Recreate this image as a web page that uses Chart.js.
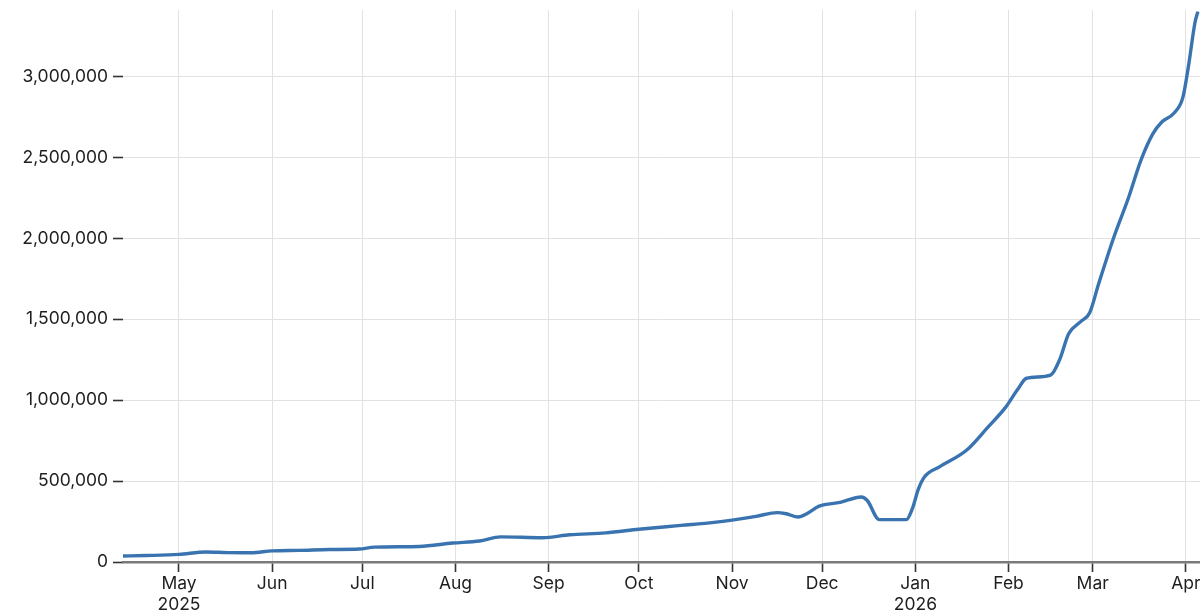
<!DOCTYPE html>
<html>
<head>
<meta charset="utf-8">
<script src="https://cdn.jsdelivr.net/npm/chart.js@4/dist/chart.umd.min.js"></script>
<style>
html,body{margin:0;padding:0;background:#fff;overflow:hidden;}
#wrap{width:1200px;height:612px;}
</style>
</head>
<body>
<div id="wrap"><canvas id="c" width="1200" height="612"></canvas></div>
<script>
// ---- data ----
const dates = [
  '2025-04-12','2025-04-20','2025-05-01','2025-05-10','2025-05-17','2025-05-25',
  '2025-06-01','2025-06-10','2025-06-20','2025-06-30','2025-07-05','2025-07-20',
  '2025-07-31','2025-08-09','2025-08-16','2025-08-30','2025-09-08','2025-09-20',
  '2025-10-01','2025-10-15','2025-10-26','2025-11-01','2025-11-09','2025-11-16',
  '2025-11-19','2025-11-23','2025-11-26','2025-11-30','2025-12-07','2025-12-14',
  '2025-12-16','2025-12-20','2025-12-29','2025-12-31','2026-01-02','2026-01-04',
  '2026-01-09','2026-01-18','2026-01-25','2026-01-31','2026-02-04','2026-02-07',
  '2026-02-15','2026-02-18','2026-02-21','2026-02-25','2026-02-28','2026-03-03',
  '2026-03-08','2026-03-13','2026-03-17','2026-03-21','2026-03-24','2026-03-28',
  '2026-03-31','2026-04-02','2026-04-04','2026-04-05'
];
const users = [
  37000, 40000, 47000, 62000, 58000, 57000,
  69000, 72000, 77000, 80000, 92000, 96000,
  117000, 130000, 155000, 150000, 168000, 180000,
  202000, 226000, 245000, 259000, 282000, 305000,
  298000, 278000, 300000, 345000, 368000, 402000,
  380000, 262000, 262000, 330000, 450000, 525000,
  588000, 690000, 830000, 955000, 1065000, 1135000,
  1155000, 1250000, 1410000, 1485000, 1540000, 1720000,
  2005000, 2255000, 2480000, 2645000, 2718000, 2772000,
  2870000, 3080000, 3330000, 3400000
];
const tickDates = ['2025-05-01','2025-06-01','2025-07-01','2025-08-01','2025-09-01','2025-10-01',
                   '2025-11-01','2025-12-01','2026-01-01','2026-02-01','2026-03-01','2026-04-01'];
const tickLabels = [['May','2025'],'Jun','Jul','Aug','Sep','Oct','Nov','Dec',['Jan','2026'],'Feb','Mar','Apr'];
const yTicks = [0, 500000, 1000000, 1500000, 2000000, 2500000, 3000000];
const yMax = 3410000;

// ---- helpers ----
const origin = Date.UTC(2025, 4, 1);
function dayOf(s){ const p = s.split('-').map(Number); return (Date.UTC(p[0], p[1]-1, p[2]) - origin) / 86400000; }
const points = dates.map((d,i)=>({x: dayOf(d), y: users[i]}));
const tickDays = tickDates.map(dayOf);
const xMin = -18.63, xMax = 339.7;

const FONT = {family: 'Inter, "Liberation Sans", sans-serif', size: 17.5};

new Chart(document.getElementById('c'), {
  type: 'line',
  data: { datasets: [{
    data: points,
    borderColor: '#3a74b0',
    borderWidth: 3.4,
    pointRadius: 0,
    fill: false,
    cubicInterpolationMode: 'monotone'
  }]},
  options: {
    responsive: false,
    animation: false,
    layout: { padding: { top: 10, right: 0, left: 0, bottom: 0 } },
    plugins: { legend: { display: false }, tooltip: { enabled: false } },
    scales: {
      x: {
        type: 'linear',
        min: xMin, max: xMax,
        afterBuildTicks: s => { s.ticks = tickDays.map(v => ({value: v})); },
        afterFit: s => { s.height = 50; s.paddingLeft = 0; s.paddingRight = 0; },
        ticks: {
          autoSkip: false, maxRotation: 0, padding: 1,
          color: '#1e1e1e', font: FONT,
          callback: v => { const i = tickDays.indexOf(v); return i >= 0 ? tickLabels[i] : ''; }
        },
        grid: { color: '#e2e2e2', lineWidth: 1, drawTicks: true, tickLength: 10, tickColor: '#333', tickWidth: 1.6 },
        border: { display: true, color: '#7a7a7a', width: 2.4 }
      },
      y: {
        min: 0, max: yMax,
        afterBuildTicks: s => { s.ticks = yTicks.map(v => ({value: v})); },
        afterFit: s => { s.width = 123; s.paddingTop = 0; s.paddingBottom = 0; },
        ticks: {
          padding: 5,
          color: '#1e1e1e', font: FONT,
          callback: v => Number(v).toLocaleString('en-US')
        },
        grid: { color: '#e2e2e2', lineWidth: 1, drawTicks: true, tickLength: 10, tickColor: '#333', tickWidth: 1.6 },
        border: { display: false }
      }
    }
  }
});
</script>
</body>
</html>
